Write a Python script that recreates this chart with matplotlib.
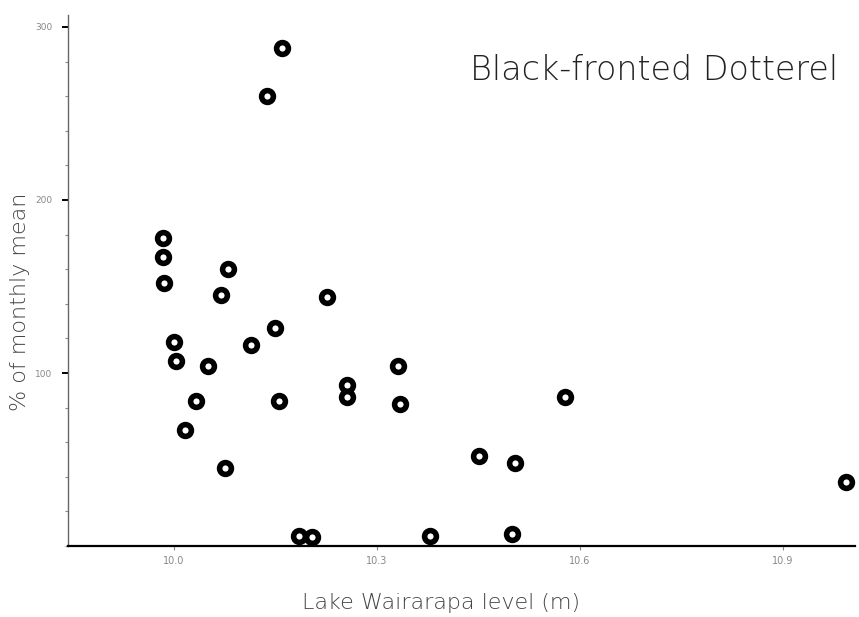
import matplotlib.pyplot as plt
from matplotlib.ticker import MultipleLocator

# Lake level (m) and % of monthly mean
level = [9.984, 9.984, 9.985, 10.0, 10.003, 10.016, 10.032, 10.050, 10.069,
         10.080, 10.075, 10.114, 10.137, 10.160, 10.149, 10.155, 10.185, 10.204,
         10.226, 10.256, 10.256, 10.331, 10.334, 10.378, 10.451, 10.499, 10.504,
         10.578, 10.993]
pct = [178, 167, 152, 118, 107, 67, 84, 104, 145,
       160, 45, 116, 260, 288, 126, 84, 6, 5,
       144, 93, 86, 104, 82, 6, 52, 7, 48,
       86, 37]

xticks = [10.0, 10.3, 10.6, 10.9]
xticklabels = ["10.0", "10.3", "10.6", "10.9"]
yticks = [100, 200, 300]

fig = plt.figure(figsize=(8.59, 6.17), dpi=100)
ax = fig.add_axes([0.079, 0.115, 0.916, 0.861])

ax.plot(level, pct, "o", ms=8.5, mfc="white", mec="black", mew=4, ls="none",
        clip_on=False, zorder=3)

ax.set_xlim(9.843, 11.006)
ax.set_ylim(0, 307)

for s in ["top", "right"]:
    ax.spines[s].set_visible(False)
ax.spines["left"].set_linewidth(1.0)
ax.spines["left"].set_color("#666666")
ax.spines["bottom"].set_linewidth(1.6)

ax.set_xticks(xticks)
ax.set_xticklabels(xticklabels)
ax.set_yticks(yticks)
ax.yaxis.set_minor_locator(MultipleLocator(20))
ax.tick_params(axis="y", which="major", length=4, width=1.4, direction="out",
               labelsize=6.5, labelcolor="#888888", pad=7)
ax.tick_params(axis="y", which="minor", length=2, width=0.8, color="#888888")
ax.tick_params(axis="x", which="major", length=3, width=0.8, direction="out",
               color="#888888", labelsize=7, labelcolor="#888888", pad=4)

fig.text(20 / 859, 1 - 302 / 617, "% of monthly mean", rotation=90,
         ha="center", va="center", fontsize=16, color="#444444",
         fontweight="light")
fig.text(441 / 859, 1 - 603 / 617, "Lake Wairarapa level (m)",
         ha="center", va="center", fontsize=16, color="#444444",
         fontweight="light")

ax.text(0.511, 0.896, "Black-fronted Dotterel", transform=ax.transAxes,
        ha="left", va="center", fontsize=24, color="#222222",
        fontweight="light")

plt.savefig("out.png", dpi=100)
